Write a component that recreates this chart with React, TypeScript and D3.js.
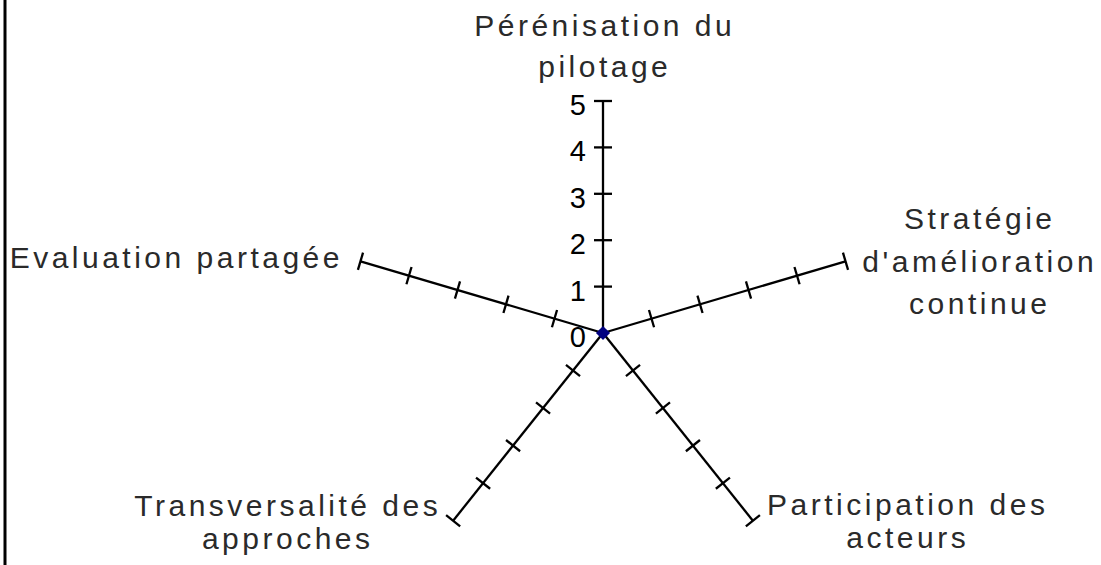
import React from "react";
import * as d3 from "d3";

const categories: string[][] = [
  ["Pérénisation du", "pilotage"],
  ["Stratégie", "d'amélioration", "continue"],
  ["Participation des", "acteurs"],
  ["Transversalité des", "approches"],
  ["Evaluation partagée"],
];
const seriesValues: number[] = [0, 0, 0, 0, 0];
const tickValues: number[] = [0, 1, 2, 3, 4, 5];
const axisTicks: number[] = [1, 2, 3, 4, 5];

// layout
const W = 1101;
const H = 565;
const CX = 603;
const CY = 333;
const RY = 232;
const RX = 255;
const LS = 3.5;
const labelLayout = [
  { x: 603, anchor: "middle", baselines: [36, 77] },
  { x: 978, anchor: "middle", baselines: [229, 272, 314] },
  { x: 906, anchor: "middle", baselines: [515, 548] },
  { x: 286, anchor: "middle", baselines: [516, 549] },
  { x: 343, anchor: "end", baselines: [268] },
];

export default function App() {
  const rX = d3.scaleLinear().domain([0, 5]).range([0, RX]);
  const rY = d3.scaleLinear().domain([0, 5]).range([0, RY]);
  const angle = (i: number) => (-90 + (360 / categories.length) * i) * (Math.PI / 180);
  const pt = (i: number, v: number): [number, number] => [
    CX + rX(v) * Math.cos(angle(i)),
    CY + rY(v) * Math.sin(angle(i)),
  ];
  const line = d3.line<[number, number]>().x((d) => d[0]).y((d) => d[1]).curve(d3.curveLinearClosed);
  const seriesPts = seriesValues.map((v, i) => pt(i, v));
  const diamond = d3.symbol().type(d3.symbolDiamond2).size(110)();

  return (
    <svg
      width={W}
      height={H}
      style={{ position: "absolute", left: 0, top: 0, background: "#fff" }}
    >
      <rect x={0} y={0} width={W} height={H} fill="#fff" />
      <line x1={5} y1={0} x2={5} y2={H} stroke="#000" strokeWidth={3} />
      {categories.map((_, i) => {
        const [x2, y2] = pt(i, 5);
        const dx = x2 - CX;
        const dy = y2 - CY;
        const len = Math.hypot(dx, dy);
        const px = -dy / len;
        const py = dx / len;
        return (
          <g key={"ax" + i}>
            <line x1={CX} y1={CY} x2={x2} y2={y2} stroke="#000" strokeWidth={2.3} />
            {axisTicks.map((t) => {
              const [tx, ty] = pt(i, t);
              return (
                <line
                  key={t}
                  x1={tx - px * 9}
                  y1={ty - py * 9}
                  x2={tx + px * 9}
                  y2={ty + py * 9}
                  stroke="#000"
                  strokeWidth={2.3}
                />
              );
            })}
          </g>
        );
      })}
      {tickValues.map((t) => (
        <text
          key={"tl" + t}
          x={CX - 17}
          y={CY - rY(t) + 14}
          textAnchor="end"
          fontFamily="'Liberation Sans', Arial, sans-serif"
          fontSize={29}
          fill="#000"
        >
          {t}
        </text>
      ))}
      <path d={line(seriesPts) || ""} fill="none" stroke="#000080" strokeWidth={2} />
      {seriesPts.map((p, i) => (
        <path key={"m" + i} d={diamond || ""} transform={`translate(${p[0]},${p[1]})`} fill="#000080" />
      ))}
      {categories.map((lines, i) => {
        const L = labelLayout[i];
        return (
          <text
            key={"lab" + i}
            textAnchor={L.anchor}
            fontFamily="'Liberation Sans', Arial, sans-serif"
            fontSize={30}
            letterSpacing={LS}
            fill="#2a2a2a"
          >
            {lines.map((s, j) => (
              <tspan key={j} x={L.anchor === "middle" ? L.x + LS / 2 : L.x} y={L.baselines[j]}>
                {s}
              </tspan>
            ))}
          </text>
        );
      })}
    </svg>
  );
}
